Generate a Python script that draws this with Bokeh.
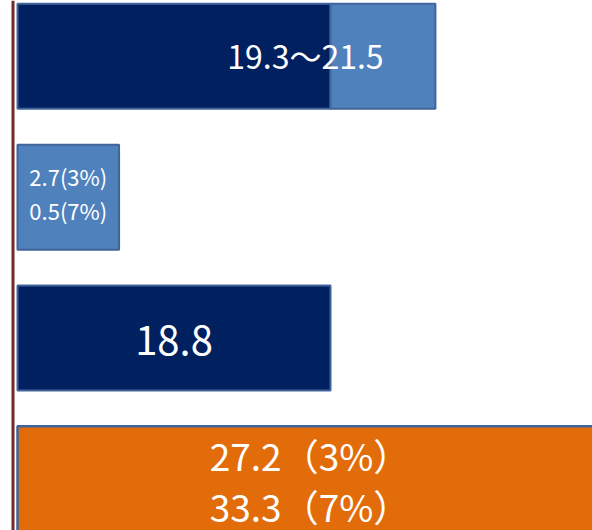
from bokeh.plotting import figure
from bokeh.models import Range1d, Span
from bokeh.core.properties import value
from bokeh.embed import file_html
from bokeh.resources import INLINE

# ---- data ----
rows = ["row1", "row2", "row3", "row4"]
base_values = [18.8, 0.0, 18.8, 0.0]       # dark navy segment
range_values = [6.3, 6.1, 0.0, 0.0]        # light blue segment
scenario_values = [0.0, 0.0, 0.0, 60.0]    # orange bar (runs off the edge)
labels = ["19.3〜21.5", "2.7(3%)\n0.5(7%)", "18.8", "27.2（3%）\n33.3（7%）"]

# ---- styling / layout ----
NAVY = "#002060"
LIGHT = "#4f81bd"
ORANGE = "#e36c0a"
EDGE = "#41659a"
AXIS = "#742b2b"
label_sizes = ["32px", "22px", "40px", "37px"]
label_line_heights = [1.2, 1.08, 1.2, 0.95]
label_dx = [79, 0, 0, -207]
label_dy = [-1, -4, 2, 2]

W, H = 592, 530
px_per_unit = 16.65
left_px = 17
x_start = -left_px / px_per_unit
x_end = (W - left_px) / px_per_unit
row0_px, row_step_px = 55.8, 140.85
y_top = -row0_px / row_step_px
y_bot = (H - row0_px) / row_step_px
bar_h = 105 / row_step_px

p = figure(width=W, height=H, output_backend="svg", toolbar_location=None,
           x_range=Range1d(x_start, x_end), y_range=Range1d(y_bot, y_top),
           min_border=0, min_border_left=0, min_border_right=0,
           min_border_top=0, min_border_bottom=0)
p.axis.visible = False
p.grid.visible = False
p.outline_line_color = None
p.background_fill_color = "white"
p.border_fill_color = "white"

idx = list(range(len(rows)))
lefts = [0.0] * len(rows)

def add_series(vals, color, full_edge=True):
    ys, l, r = [], [], []
    for i, v in enumerate(vals):
        if v > 0:
            ys.append(idx[i]); l.append(lefts[i]); r.append(lefts[i] + v)
            lefts[i] += v
    if not ys:
        return
    p.hbar(y=ys, left=l, right=r, height=bar_h, fill_color=color,
           line_color=EDGE if full_edge else None, line_width=2)
    if not full_edge:
        # bar runs off the right edge: outline only its top, left and bottom
        xs_e, ys_e = [], []
        for y, a, b in zip(ys, l, r):
            top, bot = y - bar_h / 2, y + bar_h / 2
            xs_e.append([x_end, a, a, x_end])
            ys_e.append([top, top, bot, bot])
        p.multi_line(xs=xs_e, ys=ys_e, line_color=EDGE, line_width=2.5)

add_series(base_values, NAVY)
add_series(range_values, LIGHT)
add_series(scenario_values, ORANGE, full_edge=False)

axis_x = (12.5 - left_px) / px_per_unit
p.add_layout(Span(location=axis_x, dimension="height", line_color=AXIS, line_width=3))

for i in idx:
    p.text(x=[lefts[i] / 2], y=[i], text=[labels[i]], x_offset=label_dx[i],
           y_offset=label_dy[i],
           text_color="white", text_font=value("Noto Sans CJK JP"),
           text_font_size=label_sizes[i], text_align="center",
           text_baseline="middle", text_line_height=label_line_heights[i])

open("out.html", "w").write(file_html(p, INLINE))
